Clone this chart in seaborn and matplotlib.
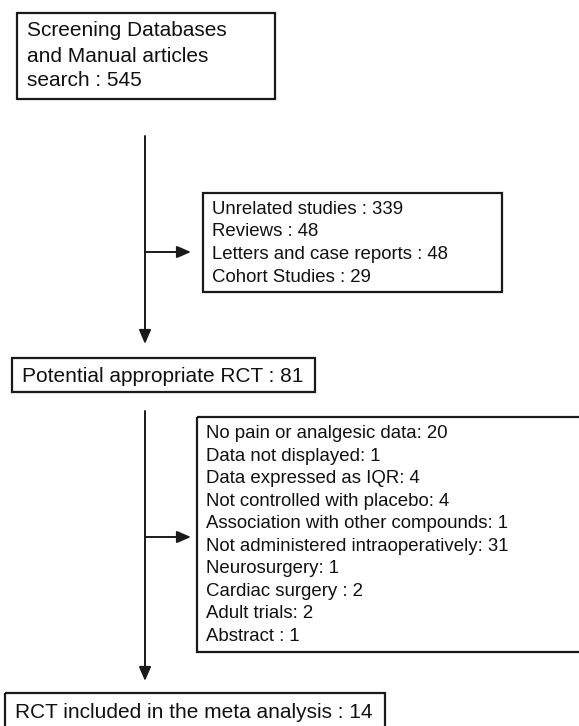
import matplotlib
matplotlib.use("Agg")
import matplotlib.pyplot as plt
from matplotlib.patches import Rectangle
import seaborn as sns

# flow chart content
search_lines = ["Screening Databases", "and Manual articles", "search : 545"]
excluded_1 = ["Unrelated studies : 339", "Reviews : 48",
              "Letters and case reports : 48", "Cohort Studies : 29"]
potential_rct = ["Potential appropriate RCT : 81"]
excluded_2 = ["No pain or analgesic data: 20", "Data not displayed: 1",
              "Data expressed as IQR: 4", "Not controlled with placebo: 4",
              "Association with other compounds: 1",
              "Not administered intraoperatively: 31", "Neurosurgery: 1",
              "Cardiac surgery : 2", "Adult trials: 2", "Abstract : 1"]
included = ["RCT included in the meta analysis : 14"]

sns.set_theme(style="white")
plt.rcParams['font.family'] = ['Liberation Sans', 'DejaVu Sans']

W, H = 579, 726
fig = plt.figure(figsize=(W / 100, H / 100), dpi=100)
ax = fig.add_axes([0, 0, 1, 1])
ax.set_xlim(0, W)
ax.set_ylim(H, 0)
ax.axis("off")

BIG = 15.0
SMALL = 13.4
LINE = "#1a1a1a"


def box(x0, y0, x1, y1, lines, tx, ty, step, fs):
    ax.add_patch(Rectangle((x0, y0), x1 - x0, y1 - y0, fill=False,
                           edgecolor=LINE, lw=1.6, clip_on=False))
    for i, t in enumerate(lines):
        ax.text(tx, ty + i * step, t, fontsize=fs, va="center", ha="left",
                color="#111111")


def arrow(x0, y0, x1, y1):
    ax.annotate("", xy=(x1, y1), xytext=(x0, y0),
                arrowprops=dict(arrowstyle="-|>,head_length=0.7,head_width=0.3",
                                color=LINE, lw=1.4, shrinkA=0, shrinkB=0))


box(17, 13, 275, 99, search_lines, 27, 31, 25, BIG)
box(203, 193, 502, 292, excluded_1, 212, 209, 22.7, SMALL)
box(12, 358, 315, 392, potential_rct, 22, 376, 0, BIG)
box(197, 417, 590, 652, excluded_2, 206, 434, 22.45, SMALL)
box(5, 693, 385, 740, included, 15, 713, 0, BIG)

arrow(145, 136, 145, 344)
arrow(145, 252, 191, 252)
arrow(145, 411, 145, 681)
arrow(145, 537, 191, 537)

fig.savefig("out.png", dpi=100)
